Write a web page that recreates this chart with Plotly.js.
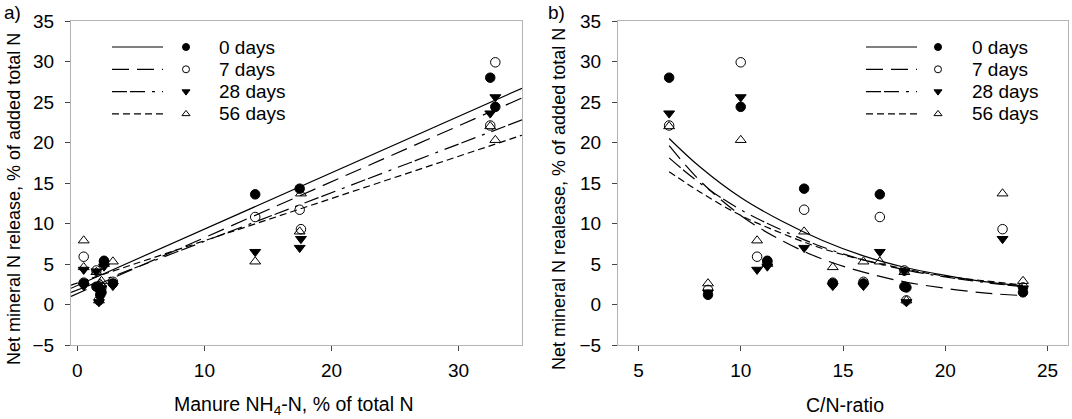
<!DOCTYPE html>
<html>
<head>
<meta charset="utf-8">
<script src="https://cdn.plot.ly/plotly-3.0.1.min.js"></script>
<style>
  html, body { margin: 0; padding: 0; background: #fff; }
  #chart { width: 1072px; height: 419px; }
</style>
</head>
<body>
<div id="chart"></div>
<script>
/* values */
var dayNames = ['0 days', '7 days', '28 days', '56 days'];

// one entry per manure sample, same order in every array
var nh4     = [32.5, 32.9, 14.0, 17.5, 17.6, 0.5, 0.5, 2.1, 2.8, 1.8, 1.5, 1.7, 1.9];
var cnRatio = [6.5, 10.0, 16.8, 13.1, 22.8, 10.8, 14.5, 11.3, 16.0, 8.4, 18.0, 18.1, 23.8];

var day0  = [28.0, 24.4, 13.6, 14.3, null, null, 2.6, 5.4, 2.6, 1.2, 2.2, 2.1, 1.5];
var day7  = [22.1, 29.9, 10.8, 11.7, 9.3, 5.9, 2.7, 5.3, 2.8, 1.8, 4.2, 0.5, 2.1];
var day28 = [23.6, 25.6, 6.5, 7.0, 8.1, 4.3, 2.3, 4.7, 2.3, 1.5, 4.1, 0.3, 2.0];
var day56 = [22.0, 20.3, 5.3, 9.0, 13.7, 7.9, 4.6, 5.0, 5.3, 2.6, 4.0, 0.5, 2.9];

// fitted lines, panel a (ends of the line)
var nh4Fit  = [-0.5, 35];
var lineA0  = [2.0, 26.7];
var lineA7  = [1.0, 25.5];
var lineA28 = [1.5, 22.8];
var lineA56 = [2.4, 20.9];

// fitted curves, panel b
var cnFit    = [6.5, 8, 10, 12, 14, 16, 18, 20, 22, 23.8];
var curveB0  = [20.5, 17.0, 13.2, 10.3, 7.9, 6.0, 4.6, 3.6, 2.8, 2.3];
var curveB7  = [19.6, 15.3, 11.0, 7.9, 5.6, 4.0, 2.8, 2.0, 1.4, 1.1];
var curveB28 = [18.1, 15.0, 11.7, 9.2, 7.1, 5.5, 4.3, 3.4, 2.7, 2.2];
var curveB56 = [16.4, 13.9, 11.0, 8.8, 6.9, 5.5, 4.4, 3.5, 2.9, 2.4];

var ticksA = [0, 10, 20, 30];
var ticksB = [5, 10, 15, 20, 25];

/* styles */
var W = 1072, H = 419;
var FONT = 'Liberation Sans, Arial, sans-serif';
var dayData = [day0, day7, day28, day56];
var linesA = [lineA0, lineA7, lineA28, lineA56];
var curvesB = [curveB0, curveB7, curveB28, curveB56];
var dashes = ['solid', '17px,8px', '15px,3px,15px,7px,3px,7px', '7px,4px'];
var symbols = ['circle', 'circle-open', 'triangle-down', 'triangle-up-open'];

var traces = [];

function addPanel(xs, fitX, fits, shape, xa, ya) {
    for (var i = 0; i < 4; i++) {
        traces.push({
            x: fitX, y: fits[i], xaxis: xa, yaxis: ya,
            mode: 'lines', type: 'scatter', showlegend: false, hoverinfo: 'skip',
            line: {color: '#000', width: 1.2, dash: dashes[i], shape: shape}
        });
    }
    for (var i = 0; i < 4; i++) {
        traces.push({
            x: xs, y: dayData[i], xaxis: xa, yaxis: ya,
            mode: 'markers', type: 'scatter', name: dayNames[i], showlegend: false,
            marker: {symbol: symbols[i], size: 9.5, color: '#000', line: {color: '#000', width: 1}}
        });
    }
}
addPanel(nh4, nh4Fit, linesA, 'linear', 'x', 'y');
addPanel(cnRatio, cnFit, curvesB, 'spline', 'x2', 'y2');

/* legend keys, drawn on a hidden pixel-sized overlay axis */
var annotations = [];
function addKey(lx0, lx1, sx, tx, top, gap) {
    for (var i = 0; i < 4; i++) {
        var y = top + i * gap;
        traces.push({
            x: [lx0, lx1], y: [y, y], xaxis: 'x3', yaxis: 'y3',
            mode: 'lines', type: 'scatter', showlegend: false, hoverinfo: 'skip',
            line: {color: '#000', width: 1.2, dash: dashes[i]}
        });
        traces.push({
            x: [sx], y: [y], xaxis: 'x3', yaxis: 'y3',
            mode: 'markers', type: 'scatter', showlegend: false, hoverinfo: 'skip',
            marker: {symbol: symbols[i], size: 7, color: '#000', line: {color: '#000', width: 1}}
        });
        annotations.push({
            xref: 'x3', yref: 'y3', x: tx, y: y, text: dayNames[i],
            xanchor: 'left', yanchor: 'middle', showarrow: false,
            font: {family: FONT, size: 19, color: '#000'}
        });
    }
}
addKey(112, 163, 186, 217, 47, 22.3);
addKey(866, 917, 938, 970, 47, 22.3);

function label(text, px, py, angle, size) {
    annotations.push({
        xref: 'paper', yref: 'paper', x: px / W, y: 1 - py / H, text: text,
        textangle: angle || 0, showarrow: false, xanchor: 'center', yanchor: 'middle',
        font: {family: FONT, size: size, color: '#000'}
    });
}
label('a)', 12, 12, 0, 19);
label('b)', 556, 12, 0, 19);
label('Net mineral N release, % of added total N', 14, 199, -90, 18);
label('Net mineral N realease, % of added total N', 559, 199, -90, 18);
label('Manure NH<sub>4</sub>-N, % of total N', 294, 405, 0, 19.5);
label('C/N-ratio', 845, 405, 0, 19.5);

function xAxis(d0, d1, range, ticks, anchor) {
    return {
        domain: [d0 / W, d1 / W], range: range, tickvals: ticks, anchor: anchor,
        showline: true, linecolor: '#b4b4b4', linewidth: 1, mirror: true,
        ticks: 'outside', ticklen: 5, tickcolor: '#444', ticklabelstandoff: 3,
        showgrid: false, zeroline: false, fixedrange: true,
        tickfont: {family: FONT, size: 19, color: '#000'}
    };
}
function yAxis(anchor) {
    return {
        domain: [1 - 345 / H, 1 - 21 / H], range: [-5, 35], dtick: 5, anchor: anchor,
        showline: true, linecolor: '#b4b4b4', linewidth: 1, mirror: true,
        ticks: 'outside', ticklen: 5, tickcolor: '#444', ticklabelstandoff: 7,
        showgrid: false, zeroline: false, fixedrange: true,
        tickfont: {family: FONT, size: 19, color: '#000'}
    };
}

var layout = {
    width: W, height: H,
    margin: {t: 0, r: 0, b: 0, l: 0},
    paper_bgcolor: '#fff', plot_bgcolor: 'rgba(0,0,0,0)',
    showlegend: false,
    xaxis: xAxis(71, 522, [-0.5, 35], ticksA, 'y'),
    yaxis: yAxis('x'),
    xaxis2: xAxis(618, 1068, [4, 26], ticksB, 'y2'),
    yaxis2: yAxis('x2'),
    xaxis3: {domain: [0, 1], range: [0, W], visible: false, anchor: 'y3', fixedrange: true},
    yaxis3: {domain: [0, 1], range: [H, 0], visible: false, anchor: 'x3', fixedrange: true},
    annotations: annotations
};

Plotly.newPlot('chart', traces, layout, {displayModeBar: false, staticPlot: true});
</script>
</body>
</html>
